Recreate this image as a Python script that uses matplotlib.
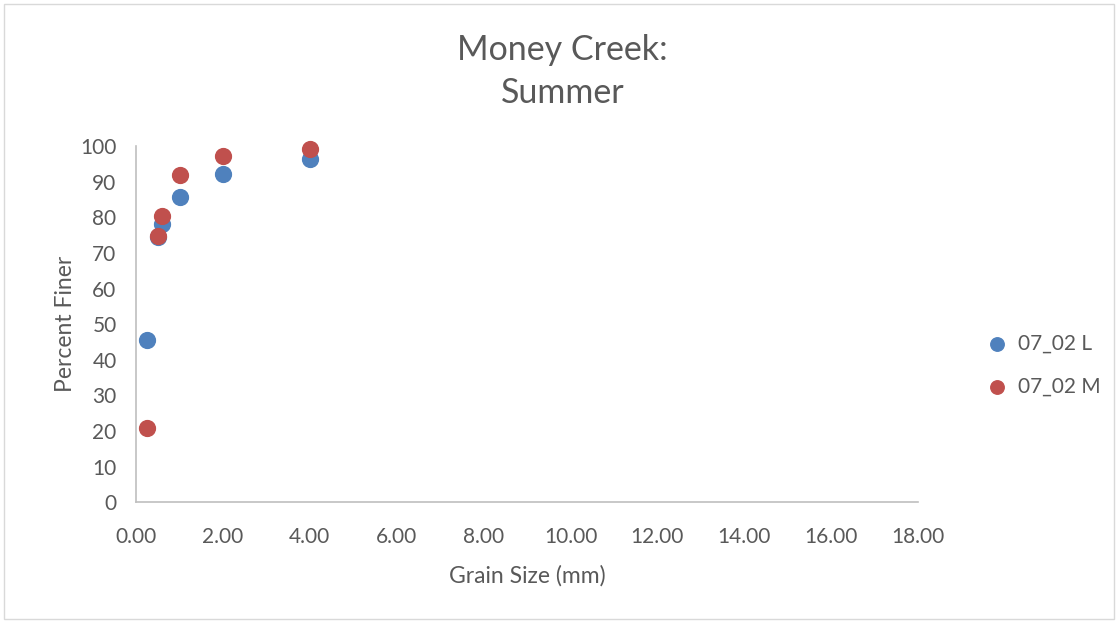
import numpy as np
import matplotlib.pyplot as plt
from matplotlib.patches import Rectangle

plt.rcParams['font.family'] = ['Lato', 'DejaVu Sans']

# grain size (mm) and percent finer for the two samples
grain_size = [0.25, 0.5, 0.6, 1.0, 2.0, 4.0]
finer_L = [45.5, 74.4, 78.0, 85.8, 92.3, 96.3]
finer_M = [20.8, 74.8, 80.5, 92.0, 97.2, 99.2]
series_names = ['07_02 L', '07_02 M']
xticks = np.arange(0, 18.01, 2)
yticks = np.arange(0, 101, 10)

txt = '#595959'
fig = plt.figure(figsize=(11.18, 6.23), dpi=100)
fig.patches.append(Rectangle((0.004, 0.006), 0.992, 0.988, transform=fig.transFigure,
                             fill=False, edgecolor='#d9d9d9', linewidth=1))
ax = fig.add_axes([0.1217, 0.194, 0.6995, 0.5715])

ax.scatter(grain_size, finer_L, s=130, color='#4f81bd', label=series_names[0],
           zorder=3, clip_on=False)
ax.scatter(grain_size, finer_M, s=130, color='#c0504d', label=series_names[1],
           zorder=3, clip_on=False)

ax.set_xlim(0, 18)
ax.set_ylim(0, 100)
ax.set_xticks(xticks)
ax.set_xticklabels(['%.2f' % v for v in xticks])
ax.set_yticks(yticks)
ax.tick_params(axis='x', length=0, labelsize=15, colors=txt, pad=18)
ax.tick_params(axis='y', length=0, labelsize=15, colors=txt, pad=14)
for s in ['top', 'right']:
    ax.spines[s].set_visible(False)
for s in ['left', 'bottom']:
    ax.spines[s].set_color('#bfbfbf')
    ax.spines[s].set_linewidth(1.2)

ax.set_xlabel('Grain Size (mm)', fontsize=16.5, color=txt, labelpad=13)
ax.set_ylabel('Percent Finer', fontsize=16.5, color=txt, labelpad=3)
fig.text(0.503, 0.885, 'Money Creek:\nSummer', ha='center', va='center',
         fontsize=24.5, color=txt, linespacing=1.45)

leg = ax.legend(loc='center left', bbox_to_anchor=(1.05, 0.385), frameon=False,
                fontsize=15, handletextpad=0.0, labelspacing=1.1,
                markerscale=0.85)
for t in leg.get_texts():
    t.set_color(txt)

fig.savefig('out.png', dpi=100)
